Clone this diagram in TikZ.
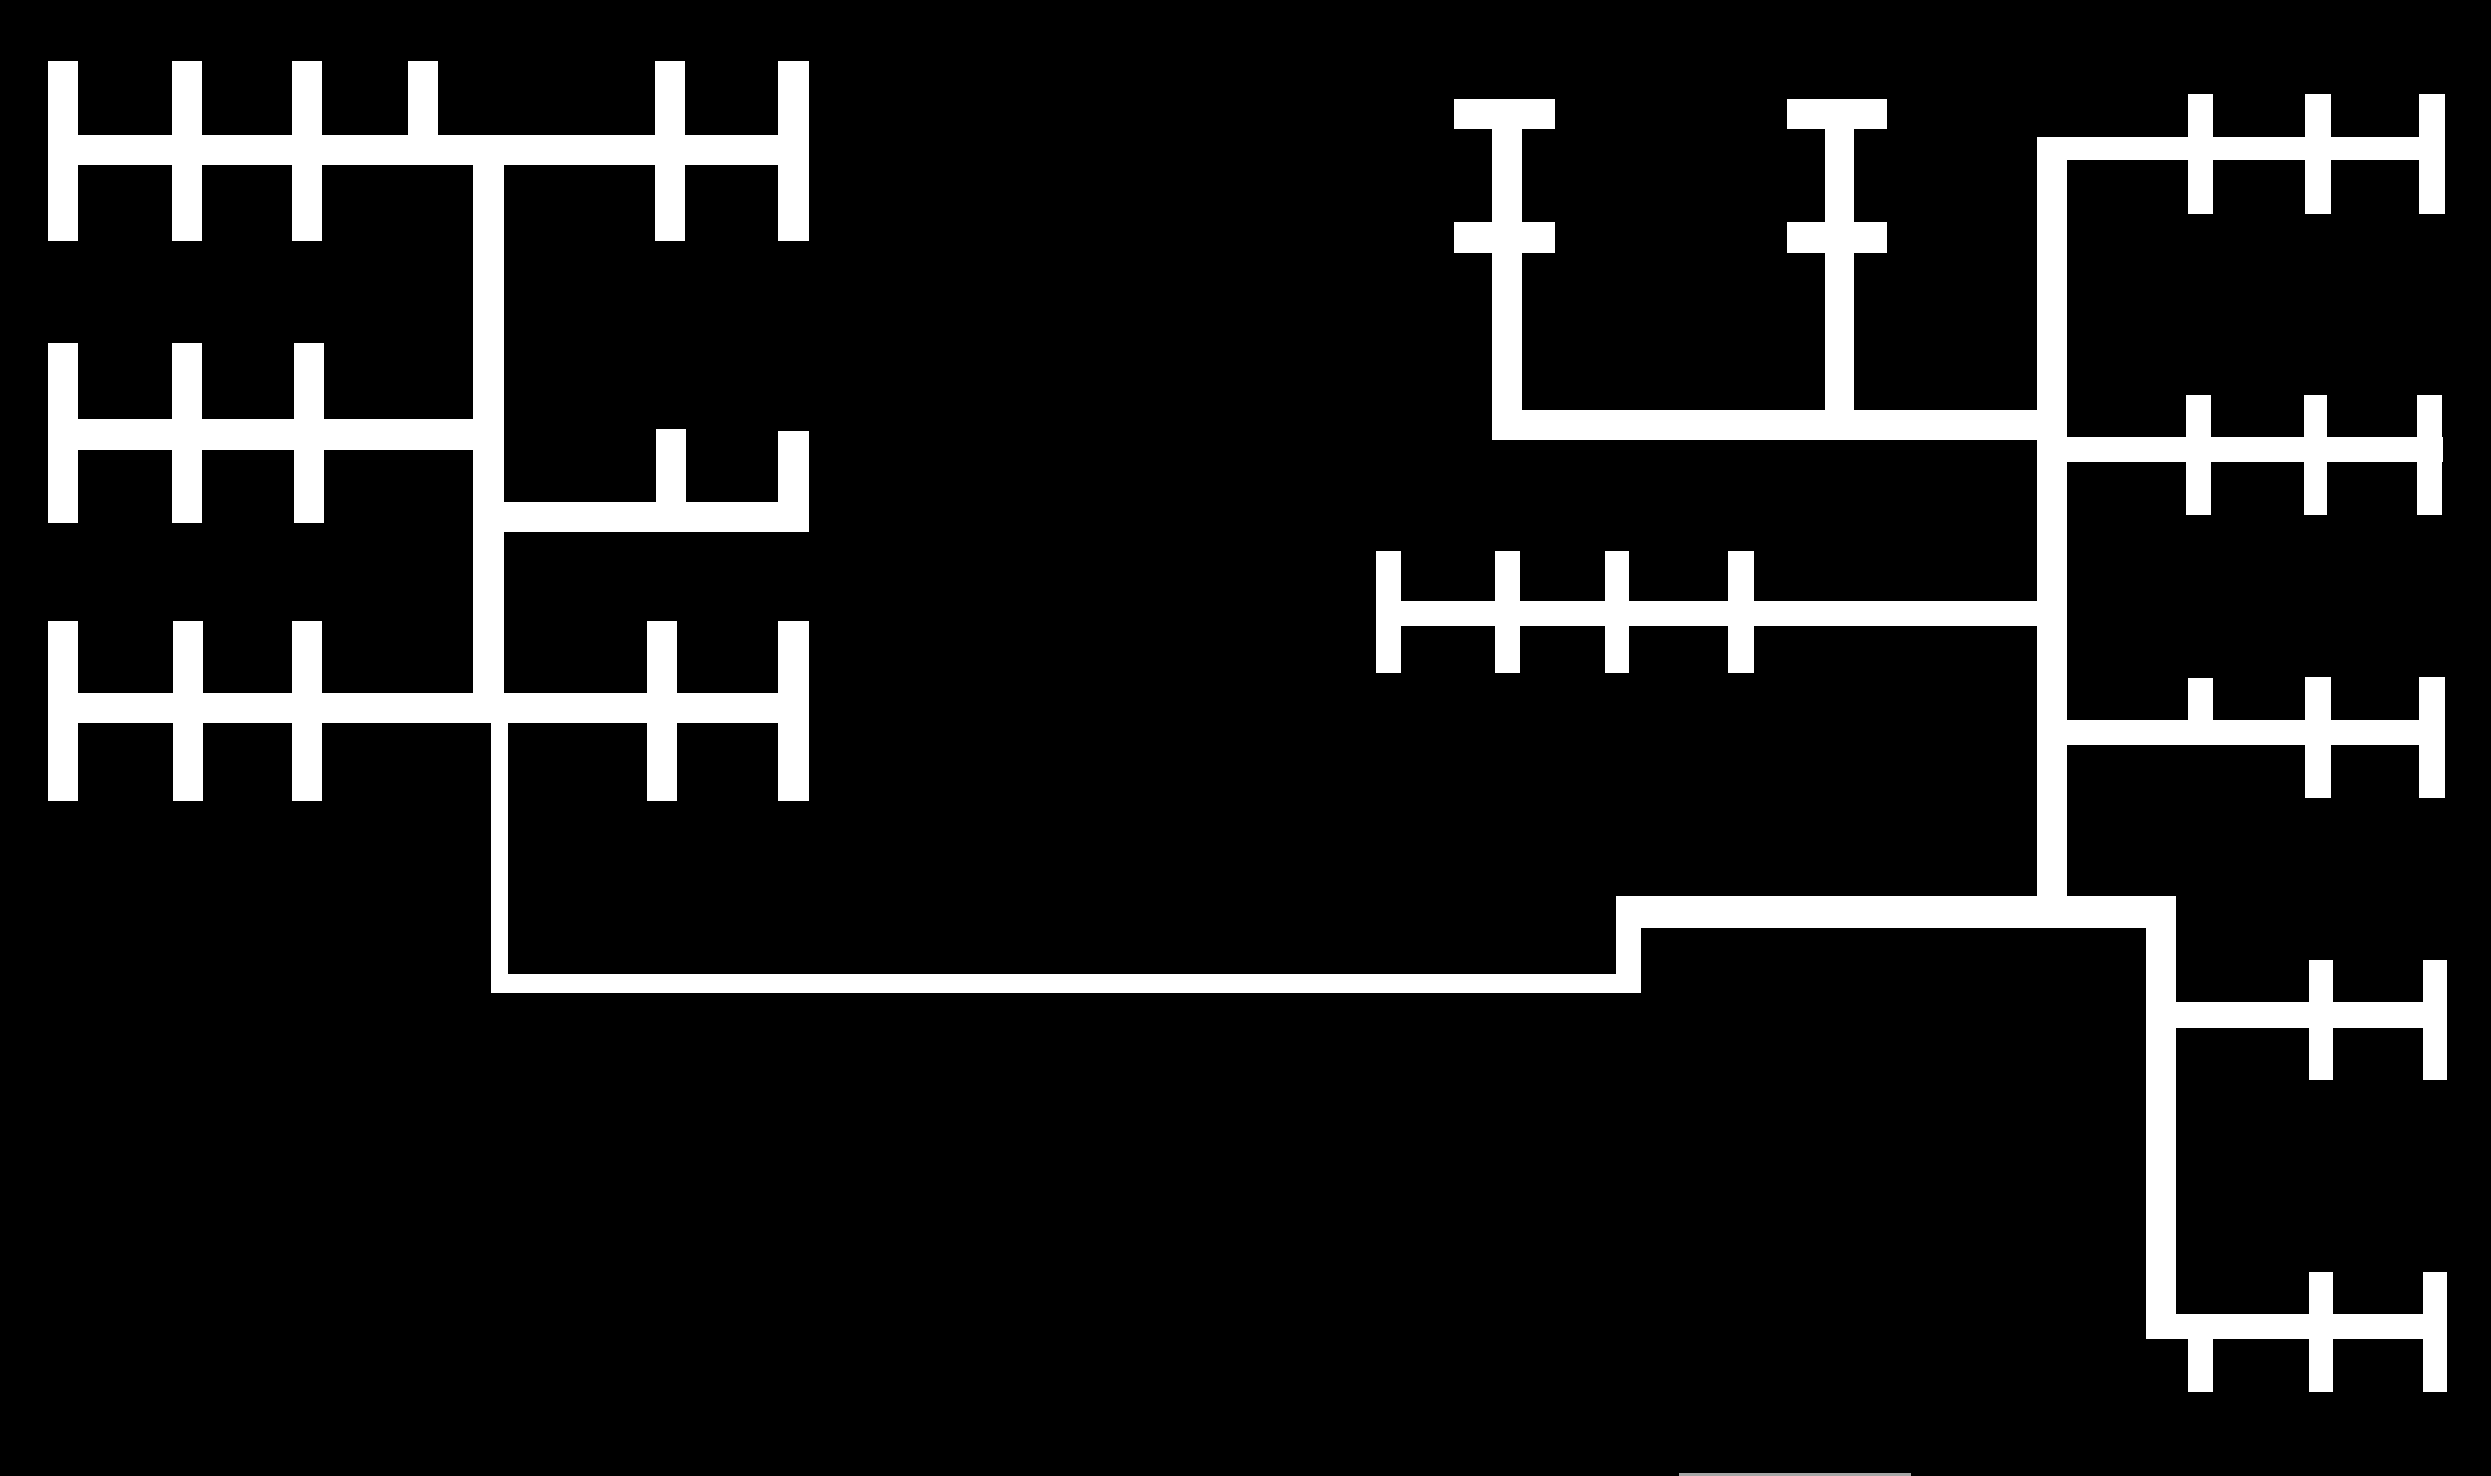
\documentclass[tikz,border=0pt]{standalone}
\begin{document}
\begin{tikzpicture}[x=0.01cm, y=-0.01cm]
    \tikzstyle{wire} = [fill=white]
    \tikzstyle{smudge} = [fill=black!35]

    \fill [black] (0,0) rectangle (1568,929);
    \useasboundingbox (0,0) rectangle (1568,929);

    \fill [wire] (30,85) rectangle (509,104);
    \foreach \a/\b in {30/49, 108/127, 184/203, 412/431, 490/509}
        \fill [wire] (\a,38.5) rectangle (\b,152);
    \fill [wire] (257,38.5) rectangle (276,85);
    \fill [wire] (298,104) rectangle (317,436);

    \fill [wire] (30,264) rectangle (298,283);
    \foreach \a/\b in {30/49, 108/127, 185/204}
        \fill [wire] (\a,216) rectangle (\b,329);

    \fill [wire] (317,316) rectangle (509,335);
    \fill [wire] (413,270) rectangle (432,316);
    \fill [wire] (490,271) rectangle (509,335);

    \fill [wire] (30,436) rectangle (509,455);
    \foreach \a/\b in {30/49, 109/128, 184/203, 407/426, 490/509}
        \fill [wire] (\a,391) rectangle (\b,504);

    \fill [wire] (309,455) rectangle (320,625);
    \fill [wire] (309,613) rectangle (1033,625);
    \fill [wire] (1017,564) rectangle (1033,613);
    \fill [wire] (1017,564) rectangle (1370,584);

    \fill [wire] (1282,86) rectangle (1301,564);
    \fill [wire] (1301,86) rectangle (1539,101);
    \foreach \a/\b in {1377/1393, 1451/1467, 1522.5/1539}
        \fill [wire] (\a,59) rectangle (\b,135);

    \fill [wire] (939,258) rectangle (1282,277);
    \foreach \a/\b in {939/958, 1149/1167} {
        \fill [wire] (\a,62) rectangle (\b,258);
        \fill [wire] (\a-24,62) rectangle (\b+21,81);
        \fill [wire] (\a-24,140) rectangle (\b+21,159);
    }

    \fill [wire] (1301,275) rectangle (1538,291);
    \foreach \a/\b in {1376/1392, 1450/1465, 1521.6/1537.3}
        \fill [wire] (\a,248.6) rectangle (\b,324);

    \fill [wire] (866,378) rectangle (1282,394);
    \foreach \a/\b in {866/882, 941/957, 1010/1025.5, 1088/1104}
        \fill [wire] (\a,347) rectangle (\b,423.5);

    \fill [wire] (1301,453) rectangle (1539,469);
    \fill [wire] (1377,426.6) rectangle (1393,453);
    \foreach \a/\b in {1451/1467, 1522.5/1539}
        \fill [wire] (\a,426) rectangle (\b,502);

    \fill [wire] (1351,584) rectangle (1370,843);
    \fill [wire] (1370,631) rectangle (1540,647);
    \foreach \a/\b in {1453.4/1468.7, 1525.3/1540.6}
        \fill [wire] (\a,604) rectangle (\b,680);

    \fill [wire] (1351,827) rectangle (1540,843);
    \fill [wire] (1377,843) rectangle (1393,876);
    \foreach \a/\b in {1453.4/1468.7, 1525.3/1540.6}
        \fill [wire] (\a,800.5) rectangle (\b,876);

    \fill [smudge] (1057,927) rectangle (1203,929);
\end{tikzpicture}
\end{document}
